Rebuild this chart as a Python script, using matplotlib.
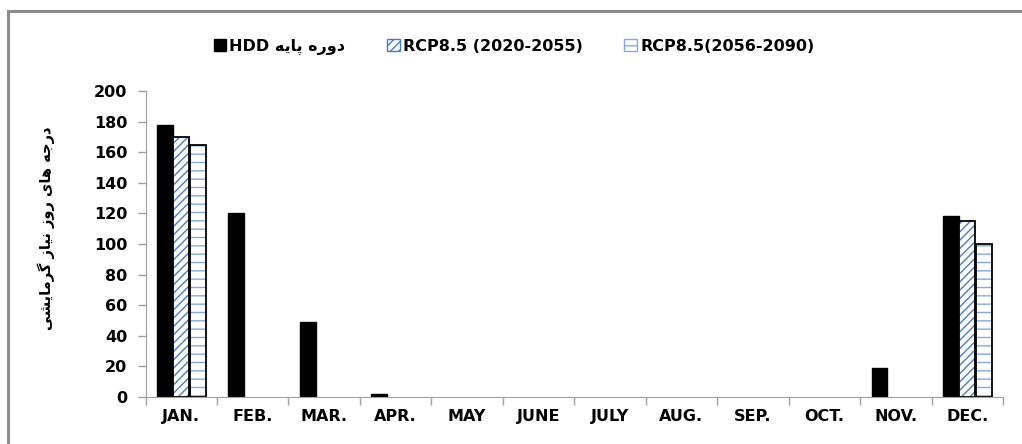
import matplotlib.pyplot as plt
import matplotlib.patches as mpatches
import numpy as np

months = ['JAN.', 'FEB.', 'MAR.', 'APR.', 'MAY', 'JUNE', 'JULY', 'AUG.', 'SEP.', 'OCT.', 'NOV.', 'DEC.']
hdd_base = [178, 120, 49, 2, 0, 0, 0, 0, 0, 0, 19, 118]
rcp_2020_2055 = [170, 0, 0, 0, 0, 0, 0, 0, 0, 0, 0, 115]
rcp_2056_2090 = [165, 0, 0, 0, 0, 0, 0, 0, 0, 0, 0, 100]
yticks = [0, 20, 40, 60, 80, 100, 120, 140, 160, 180, 200]

label_base = 'دوره پایه'
label_y = 'درجه های روز نیاز گرمایشی'

# contextual forms: isolated, final, initial, medial
FORMS = {
    'ا': (0xFE8D, 0xFE8E, None, None),
    'د': (0xFEA9, 0xFEAA, None, None),
    'ر': (0xFEAD, 0xFEAE, None, None),
    'ز': (0xFEAF, 0xFEB0, None, None),
    'و': (0xFEED, 0xFEEE, None, None),
    'ج': (0xFE9D, 0xFE9E, 0xFE9F, 0xFEA0),
    'ه': (0xFEE9, 0xFEEA, 0xFEEB, 0xFEEC),
    'پ': (0xFB56, 0xFB57, 0xFB58, 0xFB59),
    'ی': (0xFBFC, 0xFBFD, 0xFBFE, 0xFBFF),
    'ن': (0xFEE5, 0xFEE6, 0xFEE7, 0xFEE8),
    'م': (0xFEE1, 0xFEE2, 0xFEE3, 0xFEE4),
    'ش': (0xFEB5, 0xFEB6, 0xFEB7, 0xFEB8),
    'گ': (0xFB92, 0xFB93, 0xFB94, 0xFB95),
}


def joins_forward(ch):
    return ch in FORMS and FORMS[ch][2] is not None


def shape(text):
    # matplotlib has no arabic shaping: pick the forms by hand, then reverse
    out = []
    for i, ch in enumerate(text):
        if ch not in FORMS:
            out.append(ch)
            continue
        prev = text[i - 1] if i > 0 else ' '
        nxt = text[i + 1] if i + 1 < len(text) else ' '
        jp = joins_forward(prev)
        jn = joins_forward(ch) and nxt in FORMS
        iso, fin, ini, med = FORMS[ch]
        if jp and jn:
            code = med
        elif jp:
            code = fin
        elif jn:
            code = ini
        else:
            code = iso
        out.append(chr(code))
    return ''.join(out[::-1])


def draw_bars(ax, xpos, values, w, **kw):
    vals = np.array(values, dtype=float)
    keep = vals > 0
    ax.bar(xpos[keep], vals[keep], w, **kw)


plt.rcParams['font.family'] = 'DejaVu Sans'
plt.rcParams['font.weight'] = 'bold'

fig = plt.figure(figsize=(10.22, 4.44), dpi=100)
ax = fig.add_axes([0.1424, 0.1059, 0.839, 0.6892])

# frame round the chart
fig.patches.append(mpatches.Rectangle((8 / 1022, -0.1), 1.2, 1 - 11 / 444 + 0.1,
                                      transform=fig.transFigure, fill=False,
                                      edgecolor='#8c8c8c', linewidth=2.2))

x = np.arange(len(months))
w = 0.22
blue = '#4a7cc4'
light_blue = '#86a9dc'

draw_bars(ax, x - 0.23, hdd_base, w, color='black', edgecolor='black', linewidth=1)

draw_bars(ax, x, rcp_2020_2055, w, color='white', edgecolor=blue, hatch='////', linewidth=0)
draw_bars(ax, x, rcp_2020_2055, w, fill=False, edgecolor='black', linewidth=1.3)

draw_bars(ax, x + 0.23, rcp_2056_2090, w, color='white', edgecolor=light_blue, hatch='--', linewidth=0)
draw_bars(ax, x + 0.23, rcp_2056_2090, w, fill=False, edgecolor='black', linewidth=1.3)

ax.set_xlim(-0.5, len(months) - 0.5)
ax.set_ylim(0, 200)
ax.set_yticks(yticks)
ax.set_xticks(x)
ax.set_xticklabels(months)
ax.set_xticks(np.arange(len(months) + 1) - 0.5, minor=True)
ax.tick_params(axis='x', which='major', length=0, pad=9, labelsize=11.5)
ax.tick_params(axis='x', which='minor', length=6, color='#a0a0a0', width=1)
ax.tick_params(axis='y', length=6, color='#a0a0a0', width=1, pad=7, labelsize=11.5)
for s in ['top', 'right']:
    ax.spines[s].set_visible(False)
for s in ['left', 'bottom']:
    ax.spines[s].set_color('#a0a0a0')

fig.text(0.045, 0.487, shape(label_y), rotation=90, ha='center', va='center',
         fontsize=10.5, fontweight='bold')

handles = [
    mpatches.Patch(facecolor='black', edgecolor='black'),
    mpatches.Patch(facecolor='white', edgecolor=blue, hatch='////'),
    mpatches.Patch(facecolor='white', edgecolor=light_blue, hatch='--'),
]
labels = ['HDD ' + shape(label_base), 'RCP8.5 (2020-2055)', 'RCP8.5(2056-2090)']
fig.legend(handles, labels, loc='center', bbox_to_anchor=(0.503, 0.895), ncol=3,
           frameon=False, handlelength=0.8, handleheight=0.8, handletextpad=0.2,
           columnspacing=2.6, prop={'size': 11.5, 'weight': 'bold'})

fig.savefig('out.png', dpi=100)
